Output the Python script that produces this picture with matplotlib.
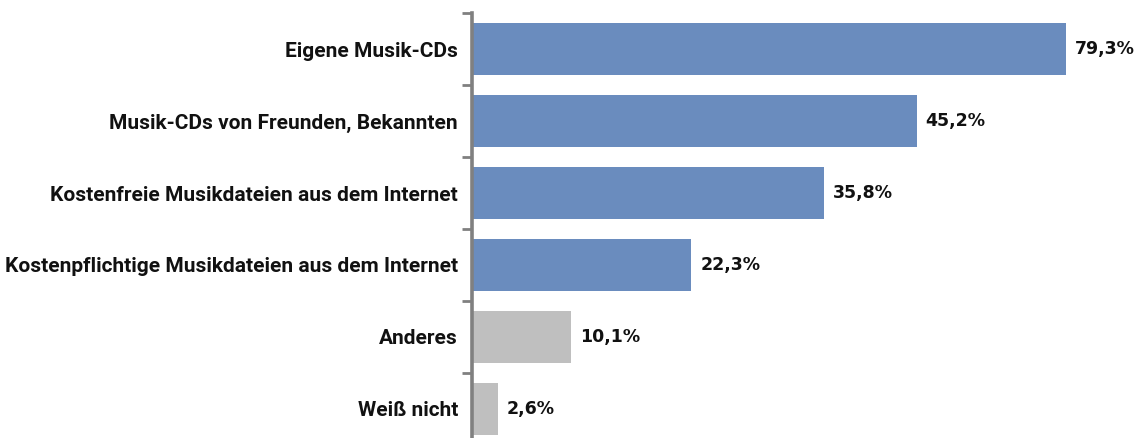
import matplotlib
matplotlib.use("Agg")
import matplotlib.pyplot as plt
import numpy as np

categories = [
    "Eigene Musik-CDs",
    "Musik-CDs von Freunden, Bekannten",
    "Kostenfreie Musikdateien aus dem Internet",
    "Kostenpflichtige Musikdateien aus dem Internet",
    "Anderes",
    "Weiß nicht",
]
values = [79.3, 45.2, 35.8, 22.3, 10.1, 2.6]
value_labels = ["79,3%", "45,2%", "35,8%", "22,3%", "10,1%", "2,6%"]
is_main = [True, True, True, True, False, False]

BLUE = "#6A8CBE"
GREY = "#BFBFBF"
AXIS = "#808080"

W, H = 1139, 438
fig = plt.figure(figsize=(W / 100, H / 100), dpi=100)
left, right, top, bottom = 472, 1066, 13, 445
ax = fig.add_axes([left / W, (H - bottom) / H, (right - left) / W, (bottom - top) / H])

xmax = 60.4
y = np.arange(len(categories))
colors = [BLUE if m else GREY for m in is_main]
ax.barh(y, values, height=0.73, color=colors, zorder=2)
ax.set_xlim(0, xmax)
ax.set_ylim(len(categories) - 0.5, -0.5)

for yi, v, lab in zip(y, values, value_labels):
    ax.annotate(lab, xy=(min(v, xmax), yi), xytext=(6.5, 0), textcoords="offset points",
                va="center", ha="left", fontsize=12.5, fontweight="bold",
                family="DejaVu Sans", color="#111111", annotation_clip=False)

for s in ["top", "right", "bottom"]:
    ax.spines[s].set_visible(False)
ax.spines["left"].set_color(AXIS)
ax.spines["left"].set_linewidth(2.6)
ax.set_xticks([])
ax.set_yticks(y)
ax.set_yticklabels(categories, fontsize=15, fontweight="bold", family="Roboto", color="#111111")
ax.tick_params(axis="y", which="major", length=0, pad=10)
ax.set_yticks(np.arange(-0.5, len(categories) - 0.5, 1.0), minor=True)
ax.tick_params(axis="y", which="minor", length=7, width=2, color=AXIS)

fig.savefig("out.png", dpi=100)
